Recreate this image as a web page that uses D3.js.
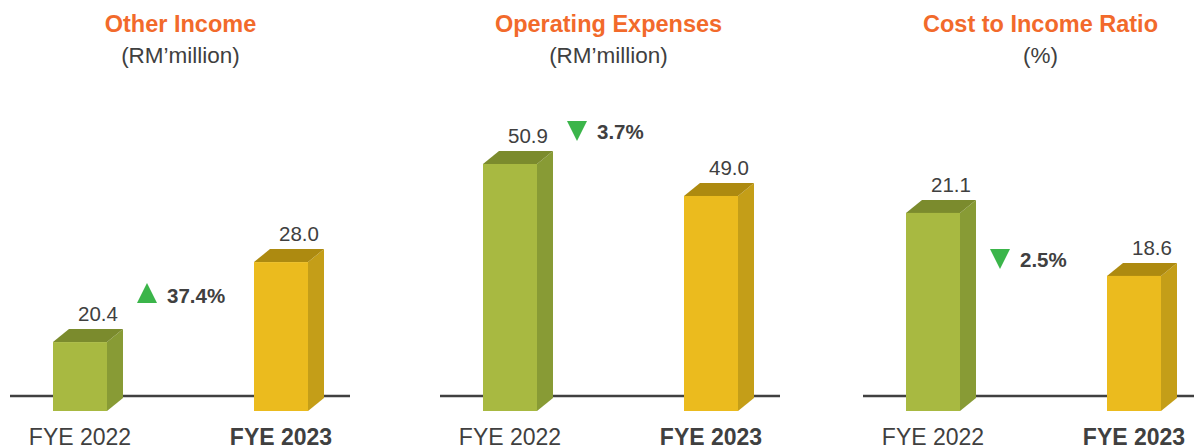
<!DOCTYPE html>
<html>
<head>
<meta charset="utf-8">
<script src="https://cdn.jsdelivr.net/npm/d3@7"></script>
<style>
  body { margin: 0; background: #ffffff; }
  svg { display: block; font-family: "Liberation Sans", Arial, sans-serif; }
</style>
</head>
<body>
<div id="chart"></div>
<script>
// chart data
const panels = ["Other Income", "Operating Expenses", "Cost to Income Ratio"];
const units = ["(RM\u2019million)", "(RM\u2019million)", "(%)"];
const categories = ["FYE 2022", "FYE 2023"];
const fye2022 = [20.4, 50.9, 21.1];
const fye2023 = [28.0, 49.0, 18.6];
const changes = ["37.4%", "3.7%", "2.5%"];
const directions = ["up", "down", "down"];
// value axis of each panel does not start at zero
const axisMin = [13.85, 36.23, 13.24];
const axisMax = [43.4, 54.7, 25.58];

// layout
const width = 1194, height = 448;
const panelLeft = [10, 440, 863];
const titleShift = [0, -2, 7];
const panelWidth = 340;
const baseY = 396, floorY = 411, topY = 100;
const barW = 54, dx = 16, dy = 13;
const annY = [303, 139, 267];

const faces = [
  {front: "#a8b941", side: "#889b35", top: "#7b8b2d"},
  {front: "#ebbb1e", side: "#c49e18", top: "#ad8a10"}
];

const svg = d3.select("#chart").append("svg")
  .attr("width", width)
  .attr("height", height);

const x = d3.scalePoint()
  .domain(categories)
  .range([70, 271]);

panels.forEach((name, i) => {
  const g = svg.append("g")
    .attr("transform", `translate(${panelLeft[i]},0)`);

  const y = d3.scaleLinear()
    .domain([axisMin[i], axisMax[i]])
    .range([floorY, topY]);

  const values = [fye2022[i], fye2023[i]];
  const cx = (x(categories[0]) + x(categories[1])) / 2 + titleShift[i];

  // titles
  g.append("text")
    .attr("x", cx)
    .attr("y", 32)
    .attr("text-anchor", "middle")
    .attr("fill", "#f26a2b")
    .style("font-weight", "bold")
    .style("font-size", "23.5px")
    .text(name);

  g.append("text")
    .attr("x", cx)
    .attr("y", 63)
    .attr("text-anchor", "middle")
    .attr("fill", "#404040")
    .style("font-size", "22.5px")
    .text(units[i]);

  // baseline
  g.append("line")
    .attr("x1", 0)
    .attr("x2", panelWidth)
    .attr("y1", baseY)
    .attr("y2", baseY)
    .attr("stroke", "#404040")
    .attr("stroke-width", 2.5);

  // 3D bars
  const bars = g.selectAll(".bar")
    .data(values)
    .enter()
    .append("g")
    .attr("class", "bar");

  bars.append("path")
    .attr("fill", (d, j) => faces[j].side)
    .attr("d", (d, j) => {
      const x1 = x(categories[j]) + barW / 2, yt = y(d);
      return `M${x1},${yt}L${x1 + dx},${yt - dy}L${x1 + dx},${floorY - dy}L${x1},${floorY}Z`;
    });

  bars.append("path")
    .attr("fill", (d, j) => faces[j].top)
    .attr("d", (d, j) => {
      const x0 = x(categories[j]) - barW / 2, x1 = x0 + barW, yt = y(d);
      return `M${x0},${yt}L${x0 + dx},${yt - dy}L${x1 + dx},${yt - dy}L${x1},${yt}Z`;
    });

  bars.append("rect")
    .attr("fill", (d, j) => faces[j].front)
    .attr("x", (d, j) => x(categories[j]) - barW / 2)
    .attr("y", d => y(d))
    .attr("width", barW)
    .attr("height", d => floorY - y(d));

  bars.append("text")
    .attr("x", (d, j) => x(categories[j]) + 18)
    .attr("y", d => y(d) - dy - 8)
    .attr("text-anchor", "middle")
    .attr("fill", "#404040")
    .style("font-size", "20.5px")
    .text(d => d.toFixed(1));

  // category labels
  g.selectAll(".cat")
    .data(categories)
    .enter()
    .append("text")
    .attr("class", "cat")
    .attr("x", d => x(d))
    .attr("y", 444.5)
    .attr("text-anchor", "middle")
    .attr("fill", "#404040")
    .style("font-size", "23px")
    .style("font-weight", (d, j) => j === 1 ? "bold" : "normal")
    .text(d => d);

  // change annotation
  const tx = 137, ty = annY[i];
  const tri = directions[i] === "up"
    ? `M${tx - 10},${ty}L${tx + 10},${ty}L${tx},${ty - 20}Z`
    : `M${tx - 10},${ty - 18}L${tx + 10},${ty - 18}L${tx},${ty + 2}Z`;
  g.append("path")
    .attr("d", tri)
    .attr("fill", "#3bb54a");

  g.append("text")
    .attr("x", tx + 20)
    .attr("y", ty)
    .attr("fill", "#404040")
    .style("font-weight", "bold")
    .style("font-size", "20.5px")
    .text(changes[i]);
});
</script>
</body>
</html>
